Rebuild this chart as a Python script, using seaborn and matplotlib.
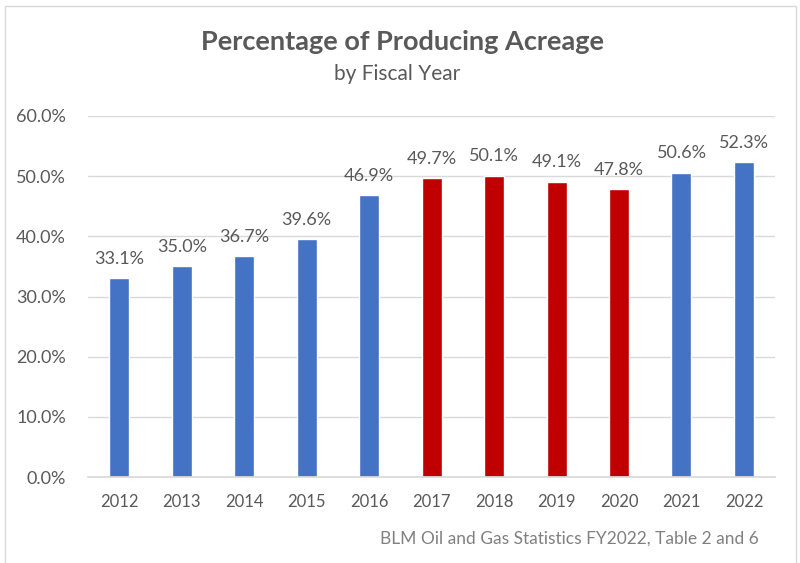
import matplotlib
matplotlib.use("Agg")
import matplotlib.pyplot as plt
import seaborn as sns
import pandas as pd
from matplotlib.patches import Rectangle

years = ["2012", "2013", "2014", "2015", "2016", "2017", "2018", "2019", "2020", "2021", "2022"]
values = [33.1, 35.0, 36.7, 39.6, 46.9, 49.7, 50.1, 49.1, 47.8, 50.6, 52.3]
groups = ["a", "a", "a", "a", "a", "b", "b", "b", "b", "a", "a"]
palette = {"a": "#4472C4", "b": "#C00000"}
yticks = [0, 10, 20, 30, 40, 50, 60]

df = pd.DataFrame({"year": years, "value": values, "group": groups})

sns.set_theme(style="white")
plt.rcParams["font.family"] = ["Lato", "DejaVu Sans"]

fig = plt.figure(figsize=(8, 5.63), dpi=100)
ax = fig.add_axes([0.11, 0.1527, 0.859, 0.6413])

sns.barplot(data=df, x="year", y="value", hue="group", palette=palette,
            dodge=False, width=0.32, legend=False, saturation=1, ax=ax)

ax.set_xlim(-0.5, len(years) - 0.5)
ax.set_ylim(0, 60)
ax.set_yticks(yticks)
ax.set_yticklabels([f"{t:.1f}%" for t in yticks])
ax.grid(axis="y", color="#D9D9D9", linewidth=1)
ax.set_axisbelow(True)
for s in ["top", "right", "left"]:
    ax.spines[s].set_visible(False)
ax.spines["bottom"].set_color("#D9D9D9")
ax.tick_params(axis="both", length=0, labelcolor="#595959")
ax.tick_params(axis="x", pad=12, labelsize=12)
ax.tick_params(axis="y", pad=16, labelsize=13)
ax.set_xlabel("")
ax.set_ylabel("")

for c in ax.containers:
    ax.bar_label(c, labels=[f"{v:.1f}%" if v == v else "" for v in c.datavalues],
                 padding=8, fontsize=13, color="#595959")

fig.text(0.503, 0.925, "Percentage of Producing Acreage", ha="center", va="center",
         fontsize=19.5, fontweight="bold", color="#595959")
fig.text(0.497, 0.868, "by Fiscal Year", ha="center", va="center",
         fontsize=15, color="#595959")
fig.text(0.948, 0.043, "BLM Oil and Gas Statistics FY2022, Table 2 and 6",
         ha="right", va="center", fontsize=12.5, color="#808080")

fig.patches.append(Rectangle((0.006, -0.01), 0.989, 1.0, transform=fig.transFigure,
                             fill=False, edgecolor="#D9D9D9", linewidth=1))

fig.savefig("out.png", dpi=100)
